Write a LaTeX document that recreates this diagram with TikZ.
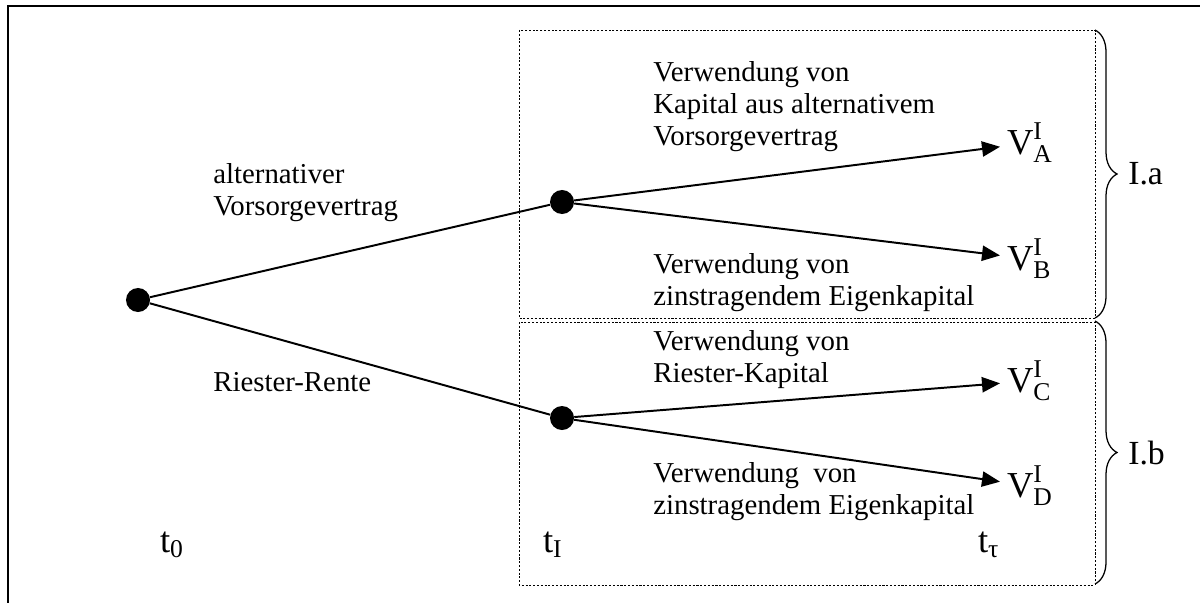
\documentclass[tikz,border=0pt]{standalone}
\usepackage{amsmath}
\usepackage{fontspec}
\setmainfont{Liberation Serif}
\usetikzlibrary{shapes.geometric, arrows.meta, decorations.pathreplacing}
\tikzstyle{knot} = [circle, fill=black, minimum size=0.6cm, inner sep=0pt]
\tikzstyle{lbl} = [anchor=west, align=left, inner sep=0pt, font=\fontsize{20.5}{22.7}\selectfont]
\tikzstyle{result} = [anchor=west, inner sep=0pt, outer sep=5pt, font=\fontsize{26}{28}\selectfont]
\tikzstyle{arrow} = [line width=1.4pt, -{Triangle[length=0.45cm, width=0.38cm]}]
\tikzstyle{branch} = [line width=1.4pt]
\tikzstyle{zone} = [dash pattern=on 1.5pt off 1.2pt, line width=0.6pt]
\tikzstyle{bracket} = [decorate, decoration={brace, amplitude=0.55cm}, line width=0.9pt]

\begin{document}
\begin{tikzpicture}[x=0.025cm, y=-0.025cm]
        \useasboundingbox (0,0) rectangle (1200,603);
        % frame
        \draw [line width=2.1pt] (8,603) -- (8,6) -- (1200,6);
        % the two cases
        \draw [zone] (519,30) rectangle (1095,318);
        \draw [zone] (519,322) rectangle (1095,585);
        \draw [bracket] (1095,30) -- (1095,318);
        \draw [bracket] (1095,321) -- (1095,584);
        \node (ia) [lbl, font=\fontsize{24}{26}\selectfont] at (1128,174) {I.a};
        \node (ib) [lbl, font=\fontsize{24}{26}\selectfont] at (1128,453) {I.b};
        % tree
        \node (root) [knot] at (138,300) {};
        \node (alt) [knot] at (562,202) {};
        \node (ries) [knot] at (562,418) {};
        \node (va) [result] at (1000,143) {$\text{V}^{\text{I}}_{\text{A}}$};
        \node (vb) [result] at (1000,259) {$\text{V}^{\text{I}}_{\text{B}}$};
        \node (vc) [result] at (1000,381) {$\text{V}^{\text{I}}_{\text{C}}$};
        \node (vd) [result] at (1000,486) {$\text{V}^{\text{I}}_{\text{D}}$};
        \draw [branch] (root) -- (alt);
        \draw [branch] (root) -- (ries);
        \draw [arrow] (alt) -- (va);
        \draw [arrow] (alt) -- (vb);
        \draw [arrow] (ries) -- (vc);
        \draw [arrow] (ries) -- (vd);
        % labels
        \node (altlbl) [lbl] at (213,193) {alternativer\\Vorsorgevertrag};
        \node (rieslbl) [lbl] at (213,382) {Riester-Rente};
        \node (valbl) [lbl] at (653,107) {Verwendung von\\Kapital aus alternativem\\Vorsorgevertrag};
        \node (vblbl) [lbl] at (653,283) {Verwendung von\\zinstragendem Eigenkapital};
        \node (vclbl) [lbl] at (653,360) {Verwendung von\\Riester-Kapital};
        \node (vdlbl) [lbl] at (653,492) {Verwendung\ \ von\\zinstragendem Eigenkapital};
        % time points
        \node (t0) [result] at (153,545) {$\text{t}_{\text{0}}$};
        \node (t1) [result] at (536,545) {$\text{t}_{\text{I}}$};
        \node (tt) [result] at (971,545) {$\text{t}_{\text{τ}}$};
    \end{tikzpicture}
\end{document}
